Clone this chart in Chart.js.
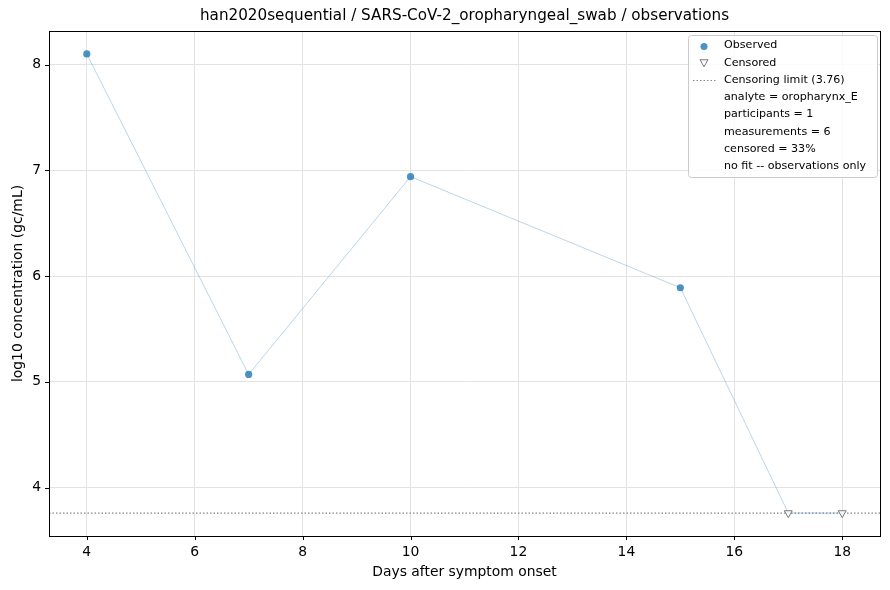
<!DOCTYPE html>
<html><head><meta charset="utf-8">
<script src="https://cdn.jsdelivr.net/npm/chart.js@4"></script>
<style>html,body{margin:0;padding:0;background:#fff}#wrap{width:890px;height:590px}</style>
</head><body><div id="wrap"><canvas id="c" width="890" height="590"></canvas></div>
<script>
const titleText = "han2020sequential / SARS-CoV-2_oropharyngeal_swab / observations";
const xLabel = "Days after symptom onset";
const yLabel = "log10 concentration (gc/mL)";
const obsDays = [4, 7, 10, 15];
const obsValues = [8.10, 5.07, 6.94, 5.89];
const censDays = [17, 18];
const censValues = [3.76, 3.76];
const allDays = [4, 7, 10, 15, 17, 18];
const allValues = [8.10, 5.07, 6.94, 5.89, 3.76, 3.76];
const censLimit = 3.76;
const xTicks = [4, 6, 8, 10, 12, 14, 16, 18];
const yTicks = [4, 5, 6, 7, 8];
const xRange = [3.3, 18.7];
const yRange = [3.543, 8.317];
const legendLabels = ["Observed", "Censored", "Censoring limit (3.76)", "analyte = oropharynx_E", "participants = 1", "measurements = 6", "censored = 33%", "no fit -- observations only"];

const FONT = "'DejaVu Sans', sans-serif";

const frame = {
  id: 'frame',
  afterDraw(chart) {
    const ctx = chart.ctx, a = chart.chartArea;
    const xs = chart.scales.x, ys = chart.scales.y;
    ctx.save();
    // spines
    ctx.strokeStyle = '#000'; ctx.lineWidth = 1;
    ctx.strokeRect(Math.round(a.left) + 0.5, Math.round(a.top) + 0.5, Math.round(a.right - a.left), Math.round(a.bottom - a.top));
    // ticks
    ctx.beginPath();
    xTicks.forEach(v => { const px = Math.round(xs.getPixelForValue(v)) + 0.5; ctx.moveTo(px, a.bottom); ctx.lineTo(px, a.bottom + 4); });
    yTicks.forEach(v => { const py = Math.round(ys.getPixelForValue(v)) + 0.5; ctx.moveTo(a.left, py); ctx.lineTo(a.left - 4, py); });
    ctx.stroke();
    // title
    ctx.fillStyle = '#000'; ctx.font = '15.2px ' + FONT; ctx.textAlign = 'center'; ctx.textBaseline = 'middle';
    ctx.fillText(titleText, (a.left + a.right) / 2, 16);
    // axis titles
    ctx.font = '13.9px ' + FONT;
    ctx.fillText(xLabel, (a.left + a.right) / 2, 572);
    ctx.save();
    ctx.translate(18, (a.top + a.bottom) / 2);
    ctx.rotate(-Math.PI / 2);
    ctx.fillText(yLabel, 0, 0);
    ctx.restore();
    // legend
    const lx = 688, ly = 35, lw = 189, lh = 142;
    ctx.fillStyle = 'rgba(255,255,255,0.85)';
    ctx.strokeStyle = '#cccccc';
    ctx.beginPath();
    if (ctx.roundRect) ctx.roundRect(lx + 0.5, ly + 0.5, lw, lh, 3); else ctx.rect(lx + 0.5, ly + 0.5, lw, lh);
    ctx.fill(); ctx.stroke();
    ctx.font = '11.1px ' + FONT; ctx.textAlign = 'left'; ctx.textBaseline = 'middle';
    legendLabels.forEach((t, i) => {
      const y = 45.5 + i * 17.25;
      if (i === 0) {
        ctx.fillStyle = 'rgba(31,119,180,0.8)';
        ctx.beginPath(); ctx.arc(704, y + 1, 3.5, 0, Math.PI * 2); ctx.fill();
      } else if (i === 1) {
        ctx.strokeStyle = '#777'; ctx.fillStyle = '#fff'; ctx.lineWidth = 1;
        ctx.beginPath(); ctx.moveTo(700, y - 3); ctx.lineTo(708, y - 3); ctx.lineTo(704, y + 4); ctx.closePath(); ctx.fill(); ctx.stroke();
      } else if (i === 2) {
        ctx.strokeStyle = '#888'; ctx.lineWidth = 1; ctx.setLineDash([1.5, 2]);
        ctx.beginPath(); ctx.moveTo(693, y + 0.5); ctx.lineTo(716, y + 0.5); ctx.stroke(); ctx.setLineDash([]);
      }
      ctx.fillStyle = '#000';
      ctx.fillText(t, 724, y);
    });
    ctx.restore();
  }
};

new Chart(document.getElementById('c'), {
  type: 'scatter',
  data: {
    datasets: [
      { label: 'limit', type: 'line', data: xRange.map(x => ({x, y: censLimit})), borderColor: '#888', borderWidth: 1.3, borderDash: [1.5, 2], pointRadius: 0, order: 5 },
      { label: 'path', type: 'line', data: allDays.map((x, i) => ({x, y: allValues[i]})), borderColor: 'rgba(31,119,180,0.3)', borderWidth: 1, pointRadius: 0, tension: 0, order: 4 },
      { label: 'Observed', data: obsDays.map((x, i) => ({x, y: obsValues[i]})), backgroundColor: 'rgba(31,119,180,0.8)', borderColor: 'rgba(31,119,180,0.8)', borderWidth: 0, pointRadius: 3.6, order: 1 },
      { label: 'Censored', data: censDays.map((x, i) => ({x, y: censValues[i]})), pointStyle: 'triangle', rotation: 180, backgroundColor: 'rgba(255,255,255,0.9)', borderColor: '#777', borderWidth: 1, pointRadius: 4.6, order: 2 }
    ]
  },
  options: {
    responsive: false, animation: false, devicePixelRatio: 1,
    layout: { padding: { top: 31, right: 10, left: 0, bottom: 0 } },
    plugins: { legend: { display: false }, tooltip: { enabled: false }, title: { display: false } },
    scales: {
      x: {
        type: 'linear', min: xRange[0], max: xRange[1],
        afterBuildTicks: s => { s.ticks = xTicks.map(v => ({value: v})); },
        afterFit: s => { s.height = 54; },
        grid: { color: '#e3e3e3', drawTicks: false },
        border: { display: false },
        ticks: { color: '#000', font: { family: FONT, size: 13.9 }, padding: 8, maxRotation: 0 }
      },
      y: {
        type: 'linear', min: yRange[0], max: yRange[1],
        afterBuildTicks: s => { s.ticks = yTicks.map(v => ({value: v})); },
        afterFit: s => { s.width = 49; },
        grid: { color: '#e3e3e3', drawTicks: false },
        border: { display: false },
        ticks: { color: '#000', font: { family: FONT, size: 13.9 }, padding: 8 }
      }
    }
  },
  plugins: [frame]
});
</script></body></html>
